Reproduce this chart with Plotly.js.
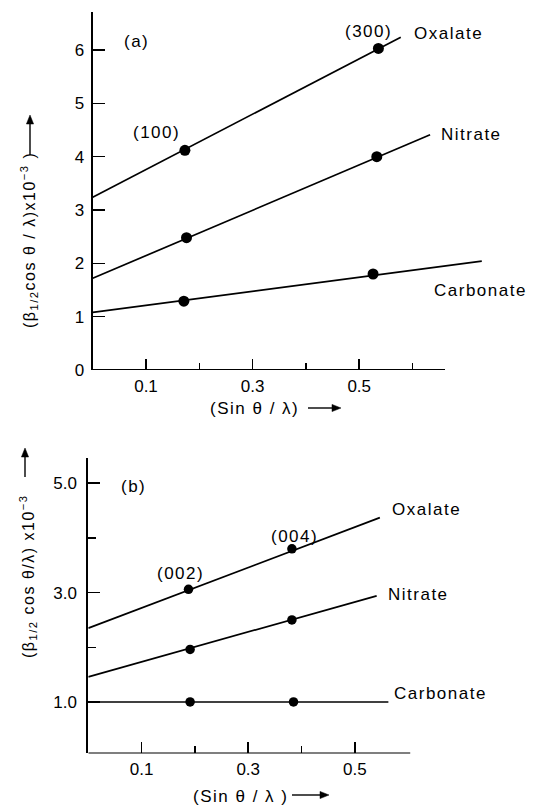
<!DOCTYPE html>
<html>
<head>
<meta charset="utf-8">
<script src="https://cdn.plot.ly/plotly-3.0.1.min.js"></script>
<style>
  html, body { margin: 0; padding: 0; background: #fff; }
  #chart { width: 533px; height: 805px; }
  .annotation-text { letter-spacing: 1.5px; }
</style>
</head>
<body>
<div id="chart"></div>
<script>
// ---------- Panel (a) data ----------
const aOxalatePtX = [0.173, 0.536];
const aOxalatePtY = [4.12, 6.03];
const aOxalateFitX = [0, 0.578];
const aOxalateFitY = [3.24, 6.24];
const aNitratePtX = [0.176, 0.533];
const aNitratePtY = [2.48, 4.00];
const aNitrateFitX = [0, 0.633];
const aNitrateFitY = [1.72, 4.41];
const aCarbonatePtX = [0.171, 0.526];
const aCarbonatePtY = [1.29, 1.80];
const aCarbonateFitX = [0, 0.730];
const aCarbonateFitY = [1.08, 2.04];

// ---------- Panel (b) data ----------
const bOxalatePtX = [0.188, 0.382];
const bOxalatePtY = [3.06, 3.80];
const bOxalateFitX = [0, 0.547];
const bOxalateFitY = [2.35, 4.37];
const bNitratePtX = [0.191, 0.382];
const bNitratePtY = [1.96, 2.50];
const bNitrateFitX = [0, 0.541];
const bNitrateFitY = [1.46, 2.94];
const bCarbonatePtX = [0.191, 0.385];
const bCarbonatePtY = [1.00, 1.00];
const bCarbonateFitX = [0, 0.563];
const bCarbonateFitY = [1.00, 1.00];

// ---------- Tick labels ----------
const aXTickVals = [0.1, 0.3, 0.5];
const aXTickText = ['0.1', '0.3', '0.5'];
const aXMinorVals = [0.2, 0.4, 0.6];
const aYTickVals = [0, 1, 2, 3, 4, 5, 6];
const aYTickText = ['0', '1', '2', '3', '4', '5', '6'];
const bXTickVals = [0.1, 0.3, 0.5];
const bXTickText = ['0.1', '0.3', '0.5'];
const bXMinorVals = [0.2, 0.4];
const bYTickVals = [1, 3, 5];
const bYTickText = ['1.0', '3.0', '5.0'];
const bYMinorVals = [2, 4];

// ---------- Text ----------
const seriesNames = ['Oxalate', 'Nitrate', 'Carbonate'];
const aReflections = ['(100)', '(300)'];
const bReflections = ['(002)', '(004)'];

const FONT = 'Liberation Sans, Arial, sans-serif';
const BLACK = '#000';

function fitTrace(x, y, xa, ya, name) {
  return { x: x, y: y, xaxis: xa, yaxis: ya, name: name, mode: 'lines',
           line: { color: BLACK, width: 1.7 }, hoverinfo: 'skip', showlegend: false };
}
function ptTrace(x, y, xa, ya, name, size) {
  return { x: x, y: y, xaxis: xa, yaxis: ya, name: name, mode: 'markers',
           marker: { color: BLACK, size: size }, cliponaxis: false, showlegend: false };
}

const data = [
  fitTrace(aOxalateFitX, aOxalateFitY, 'x', 'y', seriesNames[0]),
  fitTrace(aNitrateFitX, aNitrateFitY, 'x', 'y', seriesNames[1]),
  fitTrace(aCarbonateFitX, aCarbonateFitY, 'x', 'y', seriesNames[2]),
  ptTrace(aOxalatePtX, aOxalatePtY, 'x', 'y', seriesNames[0], 11),
  ptTrace(aNitratePtX, aNitratePtY, 'x', 'y', seriesNames[1], 11),
  ptTrace(aCarbonatePtX, aCarbonatePtY, 'x', 'y', seriesNames[2], 11),
  fitTrace(bOxalateFitX, bOxalateFitY, 'x2', 'y2', seriesNames[0]),
  fitTrace(bNitrateFitX, bNitrateFitY, 'x2', 'y2', seriesNames[1]),
  fitTrace(bCarbonateFitX, bCarbonateFitY, 'x2', 'y2', seriesNames[2]),
  ptTrace(bOxalatePtX, bOxalatePtY, 'x2', 'y2', seriesNames[0], 9.5),
  ptTrace(bNitratePtX, bNitratePtY, 'x2', 'y2', seriesNames[1], 9.5),
  ptTrace(bCarbonatePtX, bCarbonatePtY, 'x2', 'y2', seriesNames[2], 9.5)
];

const tickFont = { family: FONT, size: 17, color: BLACK };
const labelFont = { family: FONT, size: 17, color: BLACK };

function xAxis(domain, range, vals, text, minorVals, anchor) {
  return {
    domain: domain, range: range, anchor: anchor, showgrid: false, zeroline: false,
    showline: false, tickmode: 'array', tickvals: vals, ticktext: text,
    ticks: 'inside', ticklen: 11, tickwidth: 1.5, tickcolor: BLACK,
    tickfont: tickFont, ticklabelstandoff: 4, fixedrange: true,
    minor: { tickmode: 'array', tickvals: minorVals, ticks: 'inside', ticklen: 7,
             tickwidth: 1.5, tickcolor: BLACK, showgrid: false }
  };
}
function yAxis(domain, range, vals, text, minorVals, anchor, standoff) {
  const ax = {
    domain: domain, range: range, anchor: anchor, showgrid: false, zeroline: false,
    showline: true, linecolor: BLACK, linewidth: 2,
    tickmode: 'array', tickvals: vals, ticktext: text,
    ticks: 'inside', ticklen: 12, tickwidth: 1.5, tickcolor: BLACK,
    tickfont: tickFont, ticklabelstandoff: standoff, fixedrange: true
  };
  if (minorVals.length) {
    ax.minor = { tickmode: 'array', tickvals: minorVals, ticks: 'inside', ticklen: 8,
                 tickwidth: 1.5, tickcolor: BLACK, showgrid: false };
  }
  return ax;
}

function lab(text, x, y, xref, yref) {
  return { text: text, x: x, y: y, xref: xref, yref: yref, showarrow: false,
           font: labelFont, xanchor: 'center', yanchor: 'middle' };
}

const W = 533, H = 805;
const px = v => v / W;
const py = v => 1 - v / H;

// decorative arrows next to the axis titles (tail px -> head px)
function arrowShapes(x0, y0, x1, y1) {
  const dx = x1 - x0, dy = y1 - y0, len = Math.hypot(dx, dy);
  const ux = dx / len, uy = dy / len, hl = 9, hw = 3.6;
  const bx = x1 - ux * hl, by = y1 - uy * hl;
  const p1 = [bx - uy * hw, by + ux * hw], p2 = [bx + uy * hw, by - ux * hw];
  return [
    { type: 'line', xref: 'paper', yref: 'paper', x0: px(x0), y0: py(y0), x1: px(bx), y1: py(by),
      line: { color: BLACK, width: 1.4 } },
    { type: 'path', xref: 'paper', yref: 'paper',
      path: 'M ' + px(x1) + ' ' + py(y1) + ' L ' + px(p1[0]) + ' ' + py(p1[1]) +
            ' L ' + px(p2[0]) + ' ' + py(p2[1]) + ' Z',
      fillcolor: BLACK, line: { color: BLACK, width: 0.5 } }
  ];
}

const annotations = [
  // panel (a)
  lab('(a)', 0.083, 6.16, 'x', 'y'),
  lab(aReflections[0], 0.119, 4.45, 'x', 'y'),
  lab(aReflections[1], 0.517, 6.34, 'x', 'y'),
  lab(seriesNames[0], 0.667, 6.31, 'x', 'y'),
  lab(seriesNames[1], 0.710, 4.41, 'x', 'y'),
  lab(seriesNames[2], 0.728, 1.50, 'x', 'y'),
  // panel (b)
  lab('(b)', 0.084, 4.94, 'x2', 'y2'),
  lab(bReflections[0], 0.173, 3.35, 'x2', 'y2'),
  lab(bReflections[1], 0.387, 4.02, 'x2', 'y2'),
  lab(seriesNames[0], 0.635, 4.51, 'x2', 'y2'),
  lab(seriesNames[1], 0.619, 2.97, 'x2', 'y2'),
  lab(seriesNames[2], 0.661, 1.16, 'x2', 'y2'),
  // axis titles
  { text: '(β<sub>1/2</sub>cos θ / λ)x10<sup>−3</sup> )', x: px(29), y: py(240),
    xref: 'paper', yref: 'paper', showarrow: false, textangle: -90,
    font: { family: FONT, size: 16, color: BLACK }, xanchor: 'center', yanchor: 'middle' },
  { text: '(Sin θ / λ)', x: px(254), y: py(408), xref: 'paper', yref: 'paper',
    showarrow: false, font: labelFont, xanchor: 'center', yanchor: 'middle' },
  { text: '(β<sub>1/2</sub> cos θ/λ) x10<sup>−3</sup>', x: px(28), y: py(576),
    xref: 'paper', yref: 'paper', showarrow: false, textangle: -90,
    font: { family: FONT, size: 16, color: BLACK }, xanchor: 'center', yanchor: 'middle' },
  { text: '(Sin θ / λ )', x: px(240), y: py(796), xref: 'paper', yref: 'paper',
    showarrow: false, font: labelFont, xanchor: 'center', yanchor: 'middle' }
];

const shapes = [
  { type: 'line', xref: 'x', yref: 'y', x0: 0, x1: 0.661, y0: 0, y1: 0,
    line: { color: BLACK, width: 2 } },
  { type: 'line', xref: 'x2', yref: 'y2', x0: 0, x1: 0.604, y0: 0.06, y1: 0.06,
    line: { color: BLACK, width: 2 } }
].concat(
  arrowShapes(30, 155, 30, 115),
  arrowShapes(308, 408, 341, 408),
  arrowShapes(25, 477, 25, 448),
  arrowShapes(292, 795, 329, 795)
);

const layout = {
  width: W, height: H,
  margin: { l: 0, r: 0, t: 0, b: 0 },
  paper_bgcolor: '#fff', plot_bgcolor: '#fff',
  showlegend: false,
  font: { family: FONT, color: BLACK },
  xaxis: xAxis([92.7 / W, 519.1 / W], [0, 0.8], aXTickVals, aXTickText, aXMinorVals, 'y'),
  yaxis: yAxis([(H - 370) / H, (H - 11.6) / H], [0, 6.72], aYTickVals, aYTickText, [], 'x', 3),
  xaxis2: xAxis([88.3 / W, 514.7 / W], [0, 0.8], bXTickVals, bXTickText, bXMinorVals, 'y2'),
  yaxis2: yAxis([(H - 753.4) / H, (H - 458.3) / H], [0.06, 5.455], bYTickVals, bYTickText, bYMinorVals, 'x2', 6),
  annotations: annotations,
  shapes: shapes
};

Plotly.newPlot('chart', data, layout, { staticPlot: true, displayModeBar: false }).then(function (gd) {
  // drop empty placeholder text nodes and Plotly's off-screen measuring svg
  document.querySelectorAll('text').forEach(function (t) {
    if (!t.textContent || !t.textContent.trim()) t.remove();
  });
  document.querySelectorAll('body > svg').forEach(function (s) {
    if (!gd.contains(s)) s.remove();
  });
});
</script>
</body>
</html>
